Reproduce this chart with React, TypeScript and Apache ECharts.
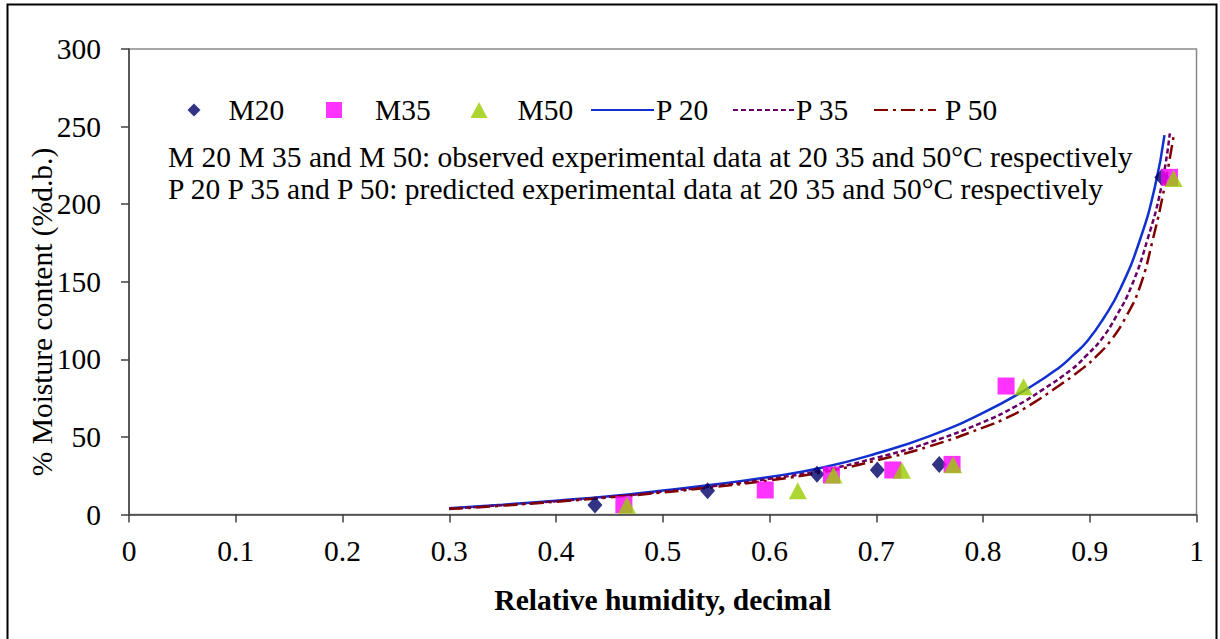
import React, { useEffect, useRef } from "react";
import * as echarts from "echarts";

// ---- data ----
const rhM20 = [0.4365, 0.542, 0.6445, 0.701, 0.759, 0.9675];
const mcM20 = [6.1, 15.3, 26.0, 28.7, 32.3, 217.3];

const rhM35 = [0.4636, 0.596, 0.658, 0.7155, 0.771, 0.8216, 0.9747];
const mcM35 = [6.3, 15.8, 25.5, 28.7, 32.3, 82.8, 217.3];

const rhM50 = [0.4665, 0.6265, 0.66, 0.724, 0.772, 0.838, 0.9785];
const mcM50 = [6.0, 15.3, 25.5, 28.5, 32.0, 82.3, 216.6];

const rhP20 = [0.3, 0.35, 0.4, 0.45, 0.5, 0.55, 0.6, 0.65, 0.7, 0.75, 0.8, 0.845, 0.87, 0.885, 0.898, 0.913, 0.929, 0.947, 0.961, 0.97];
const mcP20 = [4.0, 6.3, 8.9, 11.8, 15.5, 19.5, 24.2, 30.3, 39.3, 50.5, 65.5, 82.5, 94, 103, 112, 126.5, 146, 176.9, 211, 244.5];

const rhP35 = [0.3, 0.35, 0.4, 0.45, 0.5, 0.55, 0.6, 0.65, 0.7, 0.75, 0.8, 0.83, 0.856, 0.883, 0.897, 0.911, 0.925, 0.939, 0.954, 0.967, 0.975];
const mcP35 = [3.8, 6.0, 8.6, 11.4, 14.7, 18.5, 23.0, 28.5, 36.5, 46.5, 59.5, 69.5, 80.5, 93.5, 102.5, 113, 128, 147, 177, 211, 245.6];

const rhP50 = [0.3, 0.35, 0.4, 0.45, 0.5, 0.55, 0.6, 0.65, 0.7, 0.75, 0.8, 0.826, 0.845, 0.866, 0.894, 0.907, 0.92, 0.934, 0.947, 0.959, 0.97, 0.979];
const mcP50 = [3.5, 5.7, 8.2, 11.0, 14.2, 17.8, 22.0, 27.3, 34.8, 44, 56, 63.5, 71, 80.5, 94.5, 102.5, 112.4, 127.5, 146.8, 177, 211, 246];

const noteLines = [
  "M 20 M 35 and M 50: observed experimental data at 20 35 and 50°C respectively",
  "P 20 P 35 and P 50: predicted experimental data at 20 35 and 50°C respectively",
];

const xTitle = "Relative humidity, decimal";
const yTitle = "% Moisture content (%d.b.)";

const zip = (xs: number[], ys: number[]) => xs.map((x, i) => [x, ys[i]]);

const FONT = "'Liberation Serif', 'Times New Roman', serif";
const FS = 29.5;

export default function App() {
  const ref = useRef<HTMLDivElement>(null);
  useEffect(() => {
    if (!ref.current) return;
    const chart = echarts.init(ref.current, null, { renderer: "svg" });
    const mkLegend = (
      name: string,
      left: number,
      itemWidth: number,
      itemHeight: number,
      padLeft: number,
      isLine: boolean
    ) => ({
      data: [name],
      left,
      top: 95,
      padding: 0,
      itemWidth,
      itemHeight,
      itemGap: 0,
      selectedMode: false,
      ...(isLine ? { itemStyle: { opacity: 0, borderWidth: 0 } } : {}),
      textStyle: {
        fontFamily: FONT,
        fontSize: FS,
        color: "#000",
        lineHeight: 30,
        padding: [0, 0, 0, padLeft],
      },
    });
    chart.setOption({
      animation: false,
      backgroundColor: "#fff",
      grid: {
        left: 129,
        right: 23.5,
        top: 49,
        bottom: 124.5,
        show: true,
        borderColor: "#8a8a8a",
        borderWidth: 1.5,
        backgroundColor: "transparent",
      },
      legend: [
        mkLegend("M20", 187.5, 13, 13, 23, false),
        mkLegend("M35", 326, 16, 16, 28, false),
        mkLegend("M50", 470.5, 17, 16, 25, false),
        mkLegend("P 20", 590, 63, 14, -3, true),
        mkLegend("P 35", 732, 61, 14, -3, true),
        mkLegend("P 50", 873, 62, 14, 4, true),
      ],
      xAxis: {
        type: "value",
        min: 0,
        max: 1,
        interval: 0.1,
        name: xTitle,
        nameLocation: "middle",
        nameGap: 70,
        nameTextStyle: { fontFamily: FONT, fontSize: 29.5, fontWeight: "bold", color: "#000" },
        axisLine: { show: true, onZero: false, lineStyle: { color: "#404040", width: 1.5 } },
        axisTick: { show: true, inside: false, length: 8, lineStyle: { color: "#404040", width: 1.5 } },
        axisLabel: { fontFamily: FONT, fontSize: FS, color: "#000", margin: 21 },
        splitLine: { show: false },
      },
      yAxis: {
        type: "value",
        min: 0,
        max: 300,
        interval: 50,
        axisLine: { show: true, onZero: false, lineStyle: { color: "#404040", width: 1.5 } },
        axisTick: { show: true, inside: false, length: 8, lineStyle: { color: "#404040", width: 1.5 } },
        axisLabel: { fontFamily: FONT, fontSize: FS, color: "#000", margin: 28 },
        splitLine: { show: false },
      },
      graphic: [
        {
          type: "rect",
          silent: true,
          shape: { x: 7.5, y: 4.5, width: 1209, height: 700 },
          style: { fill: "none", stroke: "#000", lineWidth: 2 },
        },
        {
          type: "text",
          left: 168,
          top: 142,
          style: { text: noteLines[0], font: `${FS}px ${FONT}`, fill: "#000" },
        },
        {
          type: "text",
          left: 168,
          top: 174,
          style: { text: noteLines[1], font: `${FS}px ${FONT}`, fill: "#000" },
        },
        {
          type: "text",
          x: 42,
          y: 312,
          rotation: Math.PI / 2,
          style: {
            text: yTitle,
            font: `${FS}px ${FONT}`,
            fill: "#000",
            textAlign: "center",
            textVerticalAlign: "middle",
          },
        },
      ],
      series: [
        {
          name: "M20",
          type: "scatter",
          data: zip(rhM20, mcM20),
          symbol: "diamond",
          symbolSize: [15, 17],
          itemStyle: { color: "#000066" },
          z: 5,
        },
        {
          name: "M35",
          type: "scatter",
          data: zip(rhM35, mcM35),
          symbol: "rect",
          symbolSize: 17,
          itemStyle: { color: "#ff00ff" },
          z: 6,
        },
        {
          name: "M50",
          type: "scatter",
          data: zip(rhM50, mcM50),
          symbol: "triangle",
          symbolSize: [18, 17],
          itemStyle: { color: "#99cc00" },
          z: 7,
        },
        {
          name: "P 20",
          type: "line",
          data: zip(rhP20, mcP20),
          symbol: "none",
          showSymbol: false,
          smooth: 0.5,
          lineStyle: { color: "#1030d0", width: 2.5, type: "solid" },
          itemStyle: { color: "#1030d0" },
          z: 2,
        },
        {
          name: "P 35",
          type: "line",
          data: zip(rhP35, mcP35),
          symbol: "none",
          showSymbol: false,
          smooth: 0.5,
          lineStyle: { color: "#660066", width: 2.5, type: [5, 3] },
          itemStyle: { color: "#660066" },
          z: 2,
        },
        {
          name: "P 50",
          type: "line",
          data: zip(rhP50, mcP50),
          symbol: "none",
          showSymbol: false,
          smooth: 0.5,
          lineStyle: { color: "#800000", width: 2.5, type: [14, 5, 3, 5] },
          itemStyle: { color: "#800000" },
          z: 2,
        },
      ],
    });
    return () => chart.dispose();
  }, []);
  return (
    <div
      ref={ref}
      style={{ position: "absolute", left: 0, top: 0, width: 1220, height: 639, background: "#fff" }}
    />
  );
}
